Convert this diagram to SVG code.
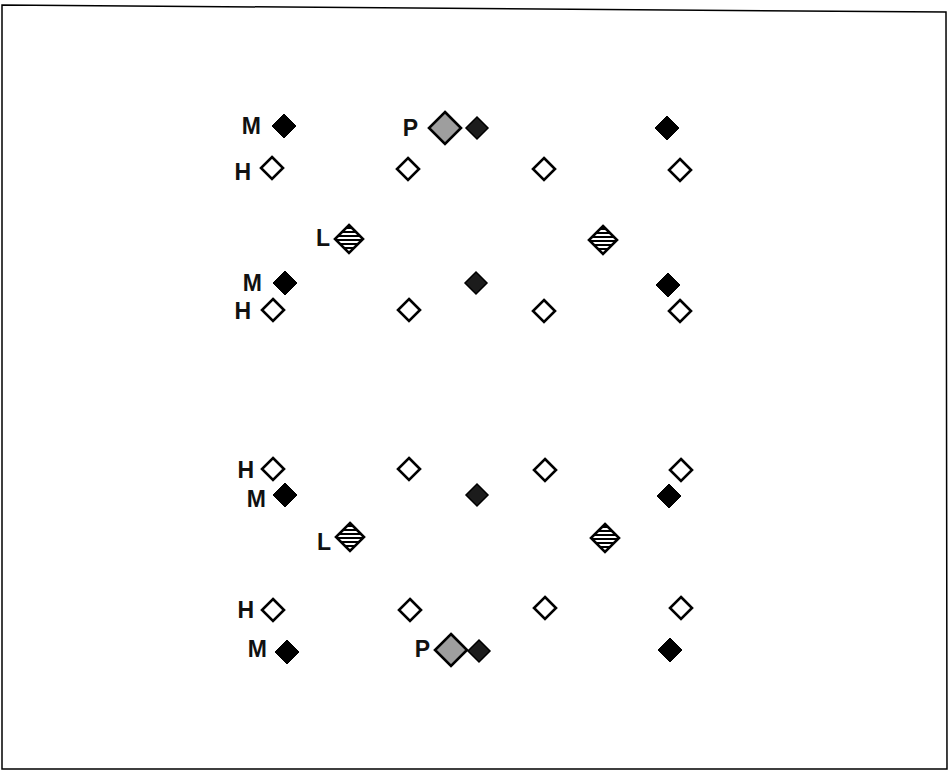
<svg xmlns="http://www.w3.org/2000/svg" width="949" height="771" viewBox="0 0 949 771">
<style>
.lbl{font-family:"Liberation Sans",Arial,sans-serif;font-weight:bold;font-size:23px;fill:#111;text-anchor:end}
.open{fill:#fff;stroke:#000;stroke-width:2.6}
.solid{fill:#000;stroke:#000;stroke-width:1}
.dark{fill:#1c1c1c;stroke:#000;stroke-width:1.5}
.grey{fill:#9e9e9e;stroke:#000;stroke-width:2.6}
.striped{fill:url(#stripes);stroke:#000;stroke-width:2.6}
</style>
<defs>
<pattern id="stripes" patternUnits="userSpaceOnUse" width="8" height="4">
<rect width="8" height="4" fill="#fff"/>
<rect width="8" height="2" fill="#000"/>
</pattern>
<path id="dOpen" class="open" d="M0,-11 L11,0 L0,11 L-11,0 Z"/>
<path id="dSolid" class="solid" d="M0,-12 L12,0 L0,12 L-12,0 Z"/>
<path id="dDark" class="dark" d="M0,-11 L11,0 L0,11 L-11,0 Z"/>
<path id="dGrey" class="grey" d="M0,-16 L16,0 L0,16 L-16,0 Z"/>
<path id="dStriped" class="striped" d="M0,-14 L14,0 L0,14 L-14,0 Z"/>
</defs>
<path d="M2,5 L946,12 L947,769 L2,769 Z" fill="none" stroke="#000" stroke-width="1.5"/>

<g id="r1">
<g id="r1-M"><text class="lbl" x="261" y="134">M</text><use href="#dSolid" x="284" y="126"/></g>
<g id="r1-P"><text class="lbl" x="418" y="136">P</text><use href="#dGrey" x="445" y="128"/></g>
<g id="r1-d2"><use href="#dDark" x="477" y="128"/></g>
<g id="r1-d4"><use href="#dSolid" x="667" y="128"/></g>
</g>
<g id="r2">
<g id="r2-H"><text class="lbl" x="251" y="180">H</text><use href="#dOpen" x="272" y="168"/></g>
<g id="r2-d2"><use href="#dOpen" x="408" y="169"/></g>
<g id="r2-d3"><use href="#dOpen" x="544" y="169"/></g>
<g id="r2-d4"><use href="#dOpen" x="680" y="170"/></g>
</g>
<g id="r3">
<g id="r3-L"><text class="lbl" x="330" y="246">L</text><use href="#dStriped" x="349" y="239"/></g>
<g id="r3-d2"><use href="#dStriped" x="603" y="240"/></g>
</g>
<g id="r4">
<g id="r4-M"><text class="lbl" x="262" y="291">M</text><use href="#dSolid" x="285" y="283"/></g>
<g id="r4-d2"><use href="#dDark" x="476" y="283"/></g>
<g id="r4-d3"><use href="#dSolid" x="668" y="285"/></g>
</g>
<g id="r5">
<g id="r5-H"><text class="lbl" x="251" y="319">H</text><use href="#dOpen" x="273" y="310"/></g>
<g id="r5-d2"><use href="#dOpen" x="409" y="310"/></g>
<g id="r5-d3"><use href="#dOpen" x="544" y="311"/></g>
<g id="r5-d4"><use href="#dOpen" x="680" y="311"/></g>
</g>
<g id="r6">
<g id="r6-H"><text class="lbl" x="254" y="478">H</text><use href="#dOpen" x="273" y="469"/></g>
<g id="r6-d2"><use href="#dOpen" x="409" y="469"/></g>
<g id="r6-d3"><use href="#dOpen" x="545" y="470"/></g>
<g id="r6-d4"><use href="#dOpen" x="681" y="470"/></g>
</g>
<g id="r7">
<g id="r7-M"><text class="lbl" x="266" y="507">M</text><use href="#dSolid" x="285" y="495"/></g>
<g id="r7-d2"><use href="#dDark" x="477" y="495"/></g>
<g id="r7-d3"><use href="#dSolid" x="669" y="496"/></g>
</g>
<g id="r8">
<g id="r8-L"><text class="lbl" x="331" y="550">L</text><use href="#dStriped" x="350" y="537"/></g>
<g id="r8-d2"><use href="#dStriped" x="605" y="538"/></g>
</g>
<g id="r9">
<g id="r9-H"><text class="lbl" x="254" y="618">H</text><use href="#dOpen" x="273" y="610"/></g>
<g id="r9-d2"><use href="#dOpen" x="410" y="610"/></g>
<g id="r9-d3"><use href="#dOpen" x="545" y="608"/></g>
<g id="r9-d4"><use href="#dOpen" x="681" y="608"/></g>
</g>
<g id="r10">
<g id="r10-M"><text class="lbl" x="267" y="657">M</text><use href="#dSolid" x="287" y="652"/></g>
<g id="r10-P"><text class="lbl" x="430" y="657">P</text><use href="#dGrey" x="451" y="650"/></g>
<g id="r10-d2"><use href="#dDark" x="479" y="651"/></g>
<g id="r10-d3"><use href="#dSolid" x="670" y="650"/></g>
</g>
</svg>
